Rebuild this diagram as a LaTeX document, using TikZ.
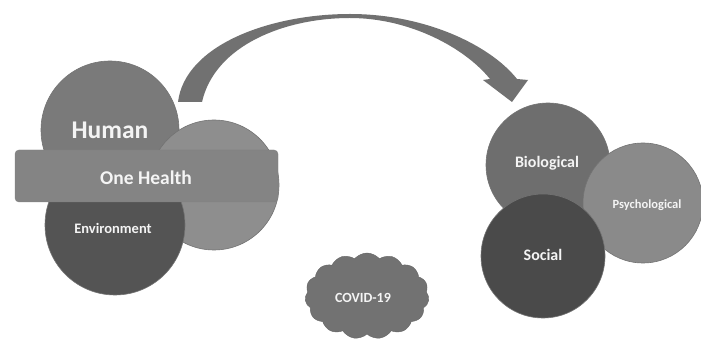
\documentclass[tikz,border=0pt]{standalone}
\usepackage{fontspec}
\setmainfont{Carlito}
\usetikzlibrary{shapes.symbols}
\definecolor{cHuman}{HTML}{7A7A7A}
\definecolor{cAnimal}{HTML}{8E8E8E}
\definecolor{cEnv}{HTML}{545454}
\definecolor{cBand}{HTML}{848484}
\definecolor{cArrow}{HTML}{717171}
\definecolor{cBio}{HTML}{6E6E6E}
\definecolor{cPsy}{HTML}{8A8A8A}
\definecolor{cSoc}{HTML}{4A4A4A}
\definecolor{cCloud}{HTML}{727272}
\definecolor{cTxt}{HTML}{F4F4F4}
\begin{document}
\begin{tikzpicture}[x=1pt,y=-1pt,
  ball/.style={circle,inner sep=0pt,draw=black!55,line width=0.6pt,text=cTxt,font=\bfseries},
  lbl/.style={text=cTxt,font=\bfseries,inner sep=0pt}]
\path[use as bounding box,fill=white] (0,0) rectangle (701,347);
% arrow
\fill[cArrow] (178,102) .. controls (185,45) and (270,14) .. (350,14)
  .. controls (425,14) and (490,45) .. (517,79) -- (528,80) -- (512,102) -- (483,80) -- (490,79)
  .. controls (465,48) and (410,18) .. (350,18)
  .. controls (285,18) and (215,45) .. (202,102) -- cycle;
% left group
\node[ball,fill=cHuman,minimum size=138pt] (human) at (110,130) {};
\node[ball,fill=cAnimal,minimum size=130pt] (animal) at (214,185) {};
\node[ball,fill=cEnv,minimum size=140pt] (env) at (115,225) {};
\node[draw=black!50,fill=cBand,rounded corners=4pt,minimum width=263pt,minimum height=52pt,inner sep=0pt] (band) at (146.5,176) {};
\node[lbl,font=\bfseries\fontsize{25.5}{25.5}\selectfont] (thuman) at (110,130) {Human};
\node[lbl,font=\bfseries\fontsize{19.5}{19.5}\selectfont] (tband) at (146,178) {One Health};
\node[lbl,font=\bfseries\fontsize{14.5}{14.5}\selectfont] (tenv) at (113,228) {Environment};
% right group
\node[ball,fill=cBio,minimum size=124pt] (bio) at (548,165) {};
\node[ball,fill=cPsy,minimum size=120pt] (psy) at (643,203) {};
\node[ball,fill=cSoc,minimum size=124pt] (soc) at (543,256) {};
\node[lbl,font=\bfseries\fontsize{16}{16}\selectfont] (tbio) at (547,163) {Biological};
\node[lbl,font=\bfseries\fontsize{12.5}{12.5}\selectfont] (tpsy) at (647,205) {Psychological};
\node[lbl,font=\bfseries\fontsize{16}{16}\selectfont] (tsoc) at (543,255) {Social};
% cloud
\node[cloud,cloud puffs=15,cloud puff arc=100,aspect=1.5,minimum width=124pt,minimum height=86pt,
  fill=cCloud,draw=black!60,inner sep=0pt] (covid) at (367,296) {};
\node[lbl,font=\bfseries\fontsize{14}{14}\selectfont] (tcovid) at (363,298) {COVID-19};
\end{tikzpicture}
\end{document}
